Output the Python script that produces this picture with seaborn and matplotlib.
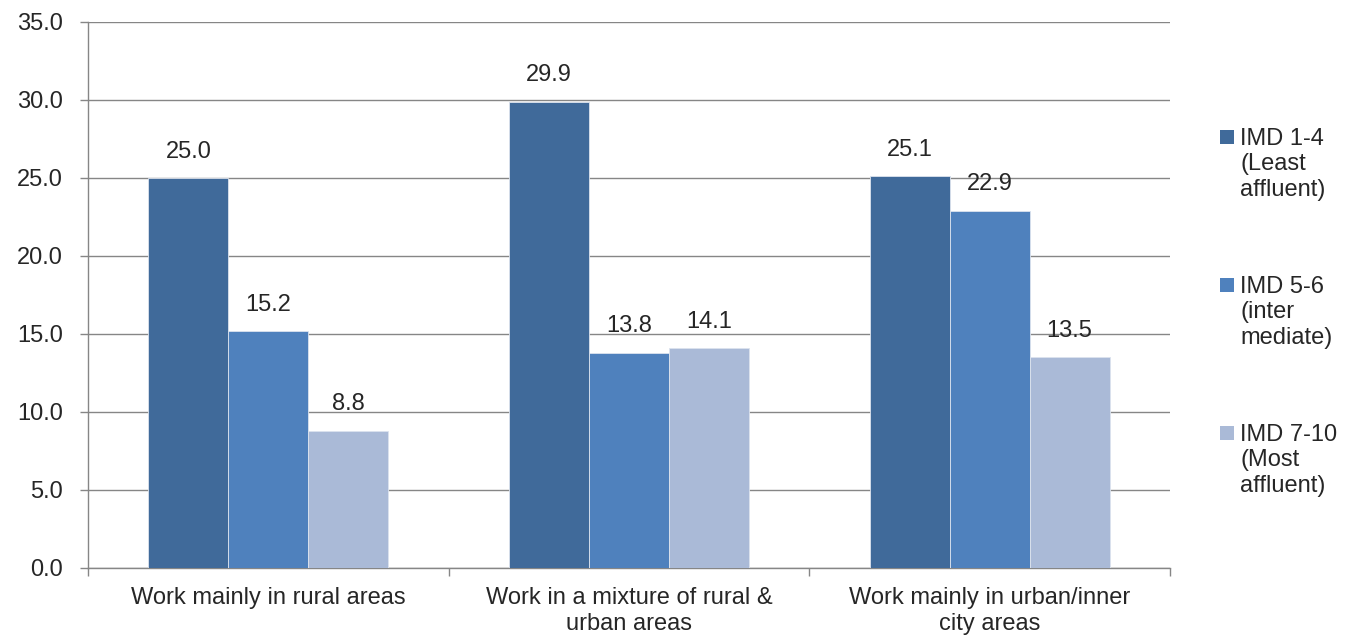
import matplotlib
matplotlib.use("Agg")
import matplotlib.pyplot as plt
import seaborn as sns
import pandas as pd
from matplotlib.patches import Rectangle

categories = ["Work mainly in rural areas",
              "Work in a mixture of rural &\nurban areas",
              "Work mainly in urban/inner\ncity areas"]
series = ["IMD 1-4\n(Least\naffluent)",
          "IMD 5-6\n(inter\nmediate)",
          "IMD 7-10\n(Most\naffluent)"]
imd_1_4 = [25.0, 29.9, 25.1]
imd_5_6 = [15.2, 13.8, 22.9]
imd_7_10 = [8.8, 14.1, 13.5]
colors = ["#406A9A", "#4F81BD", "#AABAD7"]

rows = []
for s, vals in zip(series, [imd_1_4, imd_5_6, imd_7_10]):
    for c, v in zip(categories, vals):
        rows.append({"category": c, "series": s, "value": v})
df = pd.DataFrame(rows)

sns.set_style("white")
plt.rcParams["font.family"] = ["Liberation Sans", "DejaVu Sans"]

W, H = 1351, 643
fig = plt.figure(figsize=(W / 100, H / 100), dpi=100)
ax = fig.add_axes([88 / W, 1 - 568 / H, (1170 - 88) / W, (568 - 22) / H])

sns.barplot(data=df, x="category", y="value", hue="series",
            palette=colors, width=0.665, ax=ax, legend=False,
            edgecolor="#DCE3EE", linewidth=0.6, saturation=1, zorder=3)

for cont in ax.containers:
    ax.bar_label(cont, fmt="%.1f", padding=11, fontsize=17)

ax.set_ylim(0, 35)
ax.set_xlim(-0.5, 2.5)
ax.set_yticks([i * 5 for i in range(8)])
ax.set_yticklabels([f"{i * 5:.1f}" for i in range(8)], fontsize=17)
ax.set_xticks(range(len(categories)))
ax.set_xticklabels(categories, fontsize=17)
ax.set_xlabel("")
ax.set_ylabel("")
ax.yaxis.grid(True, color="#868686", linewidth=1)
ax.set_axisbelow(True)

for side in ["top", "right"]:
    ax.spines[side].set_visible(False)
for side in ["left", "bottom"]:
    ax.spines[side].set_color("#868686")
    ax.spines[side].set_linewidth(1)

ax.tick_params(axis="y", which="major", left=True, length=5.5, width=1,
               color="#868686", pad=12.5)
ax.tick_params(axis="x", which="major", bottom=False, length=0, pad=14)
ax.set_xticks([-0.5, 0.5, 1.5, 2.5], minor=True)
ax.tick_params(axis="x", which="minor", bottom=True, length=6, width=1,
               color="#868686")

# legend: square marker beside the first line of each three-line label
for i, (label, col) in enumerate(zip(series, colors)):
    top = 128 + i * 148
    fig.patches.append(Rectangle((1220 / W, 1 - (top + 16) / H), 14 / W, 14 / H,
                                 transform=fig.transFigure, facecolor=col,
                                 edgecolor="none"))
    fig.text(1240 / W, 1 - top / H, label, fontsize=17, ha="left",
             va="top", linespacing=1.2)

fig.savefig("out.png", dpi=100)
